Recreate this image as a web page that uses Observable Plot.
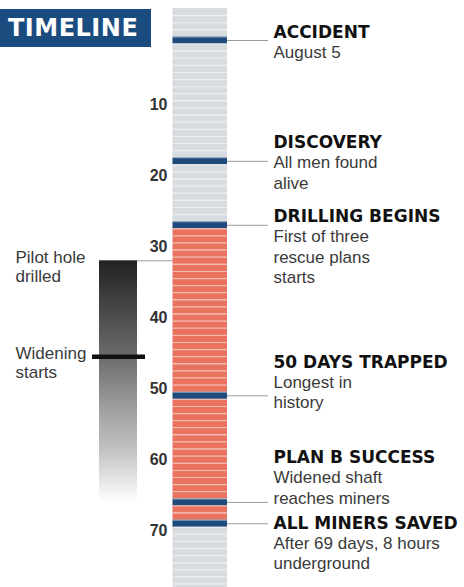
<!DOCTYPE html>
<html><head><meta charset="utf-8">
<script src="https://cdn.jsdelivr.net/npm/d3@7"></script>
<script src="https://cdn.jsdelivr.net/npm/@observablehq/plot@0.6"></script>
<style>
body{margin:0;background:#fff;}
#wrap{position:relative;width:464px;height:587px;overflow:hidden;}
#title{position:absolute;left:0;top:9px;width:151px;height:38px;background:#1b4c80;color:#fff;font:bold 24px "DejaVu Sans";line-height:38px;padding-left:8px;box-sizing:border-box;letter-spacing:0.5px;z-index:2;}
#wrap svg{position:absolute;left:0;top:0;}
</style></head><body>
<div id="wrap"><div id="title">TIMELINE</div></div>
<script>
// ---------- data ----------
const firstDay = -3, lastDay = 78;           // days shown on the strip
const drillingStartDay = 27;                 // red stripes start after this day
const rescueDay = 69;                        // red stripes end before this day
const eventDays = [1, 18, 27, 51, 66, 69];
const eventTitles = ["ACCIDENT", "DISCOVERY", "DRILLING BEGINS", "50 DAYS TRAPPED", "PLAN B SUCCESS", "ALL MINERS SAVED"];
const eventNotes = ["August 5", "All men found\nalive", "First of three\nrescue plans\nstarts", "Longest in\nhistory", "Widened shaft\nreaches miners", "After 69 days, 8 hours\nunderground"];
const tickDays = [10, 20, 30, 40, 50, 60, 70];
const pilotHoleStart = 32, pilotHoleEnd = 66;
const wideningDay = 45.5;
const sideNoteDays = [32, 45.5];
const sideNotes = ["Pilot hole\ndrilled", "Widening\nstarts"];

// ---------- layout (pixels) ----------
const dayAtTop = -4.63, dayAtBottom = 77.97;
const L = {stripX1: 172.5, stripX2: 227, leaderX2: 268, noteX: 273, tickX: 167,
           barX1: 99, barX2: 137, widenX1: 92, widenX2: 145, sideX: 15};
const titleShift = [-3, -13, -3, -28, -39, 5];

// ---------- build tables ----------
const stripes = d3.range(firstDay, lastDay + 1).map(day => ({
  day,
  kind: eventDays.includes(day) ? "event" : (day > drillingStartDay && day < rescueDay) ? "rescue" : "wait"
}));
const events = eventDays.map((day, i) => ({day, title: eventTitles[i], note: eventNotes[i]}));
const sides = sideNoteDays.map((day, i) => ({day, text: sideNotes[i]}));

const fs = 17, lh = 1.2;
const eventMarks = events.flatMap((e, i) => [
  Plot.text([e], {x: L.noteX, y: "day", text: "title", textAnchor: "start", lineAnchor: "bottom",
    dy: titleShift[i], fontFamily: "DejaVu Sans", fontWeight: "bold", fontSize: fs, fill: "#111"}),
  Plot.text([e], {x: L.noteX, y: "day", text: "note", textAnchor: "start", lineAnchor: "top",
    dy: titleShift[i] + 20 - 0.71 * lh * fs, lineHeight: lh, fontFamily: "Liberation Sans", fontSize: fs, fill: "#3a3a3a"})
]);

const chart = Plot.plot({
  width: 464, height: 587, margin: 0,
  x: {domain: [0, 464], range: [0, 464], axis: null},
  y: {domain: [dayAtTop, dayAtBottom], range: [0, 587], axis: null},
  color: {domain: ["wait", "rescue", "event"], range: ["#d8dbe0", "#e9735e", "#1d4a7a"]},
  style: {background: "transparent"},
  marks: [
    Plot.rect(stripes, {x1: L.stripX1, x2: L.stripX2, y1: d => d.day - 0.5, y2: d => d.day + 0.5, fill: "kind"}),
    Plot.ruleY(stripes.slice(1), {y: d => d.day - 0.5, x1: L.stripX1, x2: L.stripX2, stroke: "white", strokeOpacity: 0.5, strokeWidth: 1.1}),
    Plot.ruleY(events, {y: "day", x1: L.stripX2, x2: L.leaderX2, stroke: "#9a9a9a", strokeWidth: 1}),
    ...eventMarks,
    Plot.text(tickDays, {x: L.tickX, y: d => d, text: d => String(d), textAnchor: "end", lineAnchor: "middle",
      fontFamily: "Liberation Sans", fontWeight: "bold", fontSize: 16, fill: "#333"}),
    Plot.rect([{start: pilotHoleStart, end: pilotHoleEnd}], {x1: L.barX1, x2: L.barX2, y1: "start", y2: "end", fill: "url(#pilotGrad)"}),
    Plot.ruleY([pilotHoleStart], {x1: L.barX2, x2: L.stripX1, stroke: "#9a9a9a", strokeWidth: 1}),
    Plot.ruleY([wideningDay], {x1: L.widenX1, x2: L.widenX2, stroke: "#111", strokeWidth: 4.5}),
    Plot.text(sides, {x: L.sideX, y: "day", text: "text", textAnchor: "start", lineAnchor: "top",
      dy: 2 - 0.71 * 1.12 * fs, lineHeight: 1.12, fontFamily: "Liberation Sans", fontSize: fs, fill: "#3a3a3a"})
  ]
});

const defs = d3.select(chart).insert("defs", ":first-child");
const grad = defs.append("linearGradient").attr("id", "pilotGrad")
  .attr("x1", 0).attr("y1", 0).attr("x2", 0).attr("y2", 1);
[[0, "#222"], [0.4, "#6c6c6c"], [0.6, "#9c9c9c"], [0.8, "#c6c6c6"], [1, "#ffffff"]]
  .forEach(([o, c]) => grad.append("stop").attr("offset", o).attr("stop-color", c));

document.getElementById("wrap").appendChild(chart);
</script>
</body></html>
